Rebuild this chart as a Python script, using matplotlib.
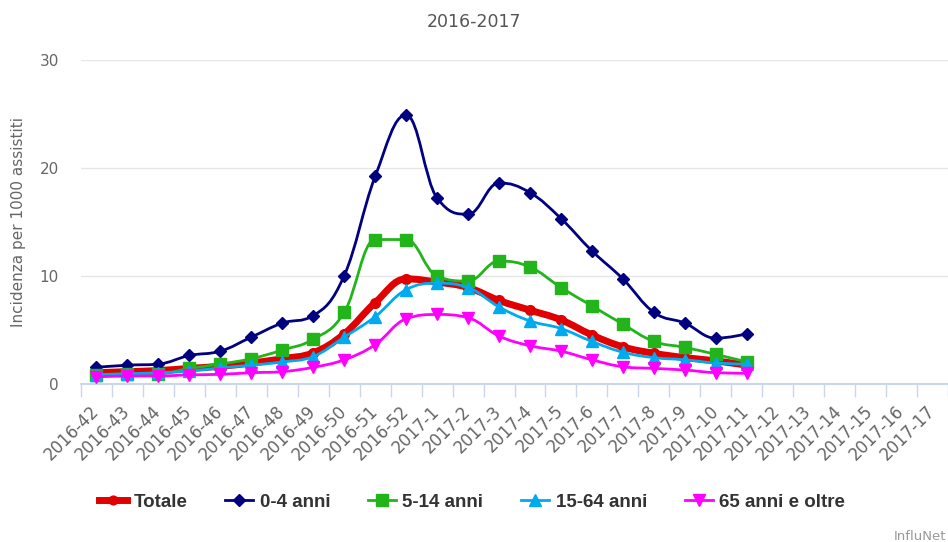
import matplotlib.pyplot as plt
import numpy as np
from matplotlib.path import Path
from matplotlib.patches import PathPatch
from matplotlib.lines import Line2D

weeks = ['2016-42', '2016-43', '2016-44', '2016-45', '2016-46', '2016-47',
         '2016-48', '2016-49', '2016-50', '2016-51', '2016-52',
         '2017-1', '2017-2', '2017-3', '2017-4', '2017-5', '2017-6', '2017-7',
         '2017-8', '2017-9', '2017-10', '2017-11', '2017-12', '2017-13',
         '2017-14', '2017-15', '2017-16', '2017-17']

# valori letti fino a 2017-11
totale = [1.0, 1.1, 1.2, 1.4, 1.6, 1.9, 2.3, 2.85, 4.6, 7.5, 9.7,
          9.4, 8.9, 7.7, 6.8, 5.9, 4.5, 3.4, 2.8, 2.4, 2.1, 1.7]
anni_0_4 = [1.5, 1.7, 1.8, 2.6, 3.0, 4.3, 5.6, 6.3, 10.0, 19.2, 24.9,
            17.2, 15.7, 18.6, 17.7, 15.3, 12.3, 9.7, 6.6, 5.6, 4.2, 4.6]
anni_5_14 = [0.8, 0.9, 0.9, 1.4, 1.8, 2.3, 3.1, 4.1, 6.6, 13.35, 13.35,
             9.95, 9.5, 11.35, 10.8, 8.9, 7.2, 5.5, 3.9, 3.35, 2.7, 2.0]
anni_15_64 = [0.8, 0.9, 1.0, 1.15, 1.45, 1.7, 2.0, 2.5, 4.3, 6.2, 8.7,
              9.3, 8.9, 7.1, 5.8, 5.1, 3.9, 2.9, 2.4, 2.2, 1.9, 1.8]
anni_65 = [0.6, 0.7, 0.7, 0.8, 0.85, 1.0, 1.1, 1.5, 2.2, 3.6, 6.0,
           6.4, 6.1, 4.4, 3.5, 3.0, 2.2, 1.55, 1.4, 1.25, 1.0, 0.95]

series = [
    ('Totale', totale, '#e00000', 'o', 7, 5),
    ('0-4 anni', anni_0_4, '#000080', 'D', 6.5, 2),
    ('5-14 anni', anni_5_14, '#22b41a', 's', 9, 2),
    ('15-64 anni', anni_15_64, '#00aaee', '^', 9, 2),
    ('65 anni e oltre', anni_65, '#ff00ff', 'v', 9, 2),
]


def spline_path(x, y):
    # curva come lo spline di Highcharts (bezier cubiche)
    n = len(x)
    sm = 1.5
    den = sm + 1
    lc = [None] * n
    rc = [None] * n
    for i in range(1, n - 1):
        px, py = x[i], y[i]
        lx, ly = x[i - 1], y[i - 1]
        nx, ny = x[i + 1], y[i + 1]
        lcx = (sm * px + lx) / den
        lcy = (sm * py + ly) / den
        rcx = (sm * px + nx) / den
        rcy = (sm * py + ny) / den
        corr = (rcy - lcy) * (rcx - px) / (rcx - lcx) + py - rcy
        lcy += corr
        rcy += corr
        if lcy > ly and lcy > py:
            lcy = max(ly, py)
            rcy = 2 * py - lcy
        elif lcy < ly and lcy < py:
            lcy = min(ly, py)
            rcy = 2 * py - lcy
        if rcy > ny and rcy > py:
            rcy = max(ny, py)
            lcy = 2 * py - rcy
        elif rcy < ny and rcy < py:
            rcy = min(ny, py)
            lcy = 2 * py - rcy
        lc[i] = (lcx, lcy)
        rc[i] = (rcx, rcy)
    verts = [(x[0], y[0])]
    codes = [Path.MOVETO]
    for i in range(1, n):
        c1 = rc[i - 1] if rc[i - 1] else (x[i - 1], y[i - 1])
        c2 = lc[i] if lc[i] else (x[i], y[i])
        verts += [c1, c2, (x[i], y[i])]
        codes += [Path.CURVE4] * 3
    return Path(verts, codes)


fig = plt.figure(figsize=(9.48, 5.42), dpi=100)
ax = fig.add_axes([81 / 948, 1 - 383.5 / 542, 867 / 948, 323.5 / 542])

handles = []
for k, (name, vals, col, mk, ms, lw) in enumerate(series):
    x = np.arange(len(vals))
    p = PathPatch(spline_path(x, vals), fill=False, edgecolor=col, lw=lw,
                  capstyle='round', joinstyle='round', zorder=3 + k)
    ax.add_patch(p)
    ax.plot(x, vals, ls='none', marker=mk, ms=ms, color=col, mec=col,
            zorder=3.5 + k, clip_on=False)
    handles.append(Line2D([], [], color=col, lw=lw, marker=mk, ms=ms * 0.9,
                          label=name))

ax.set_xlim(-0.5, len(weeks) - 0.5)
ax.set_ylim(0, 30)
ax.set_yticks([0, 10, 20, 30])
ax.set_xticks(np.arange(len(weeks)))
ax.set_xticklabels(weeks, rotation=45, ha='right', va='center',
                   rotation_mode='anchor')
ax.set_xticks(np.arange(-0.5, len(weeks), 1), minor=True)
ax.tick_params(axis='x', which='major', length=0, pad=18, labelsize=12,
               labelcolor='#666666')
ax.tick_params(axis='x', which='minor', length=9.5, width=1, color='#ccd6eb')
ax.tick_params(axis='y', length=0, pad=16, labelsize=11, labelcolor='#666666')

ax.yaxis.grid(True, color='#e6e6e6', lw=1)
ax.set_axisbelow(True)
for s in ['top', 'right', 'left']:
    ax.spines[s].set_visible(False)
ax.spines['bottom'].set_color('#ccd6eb')
ax.spines['bottom'].set_linewidth(1.5)

ax.set_ylabel('Incidenza per 1000 assistiti', fontsize=11, color='#666666')
ax.yaxis.set_label_coords(-55 / 867, 0.5)

fig.text(0.5, 1 - 22 / 542, '2016-2017', ha='center', va='center',
         fontsize=12.5, color='#555555')

fig.legend(handles=handles, loc='center', bbox_to_anchor=(472 / 948, 1 - 502 / 542),
           ncol=5, frameon=False, handlelength=1.5, handletextpad=0.35,
           columnspacing=2.0, prop={'family': 'Liberation Sans', 'weight': 'bold',
                                    'size': 13.5}, labelcolor='#333333')

fig.text(946 / 948, 1 - 536 / 542, 'InfluNet', ha='right', va='center',
         fontsize=9.5, color='#999999')

plt.savefig('out.png', dpi=100)
